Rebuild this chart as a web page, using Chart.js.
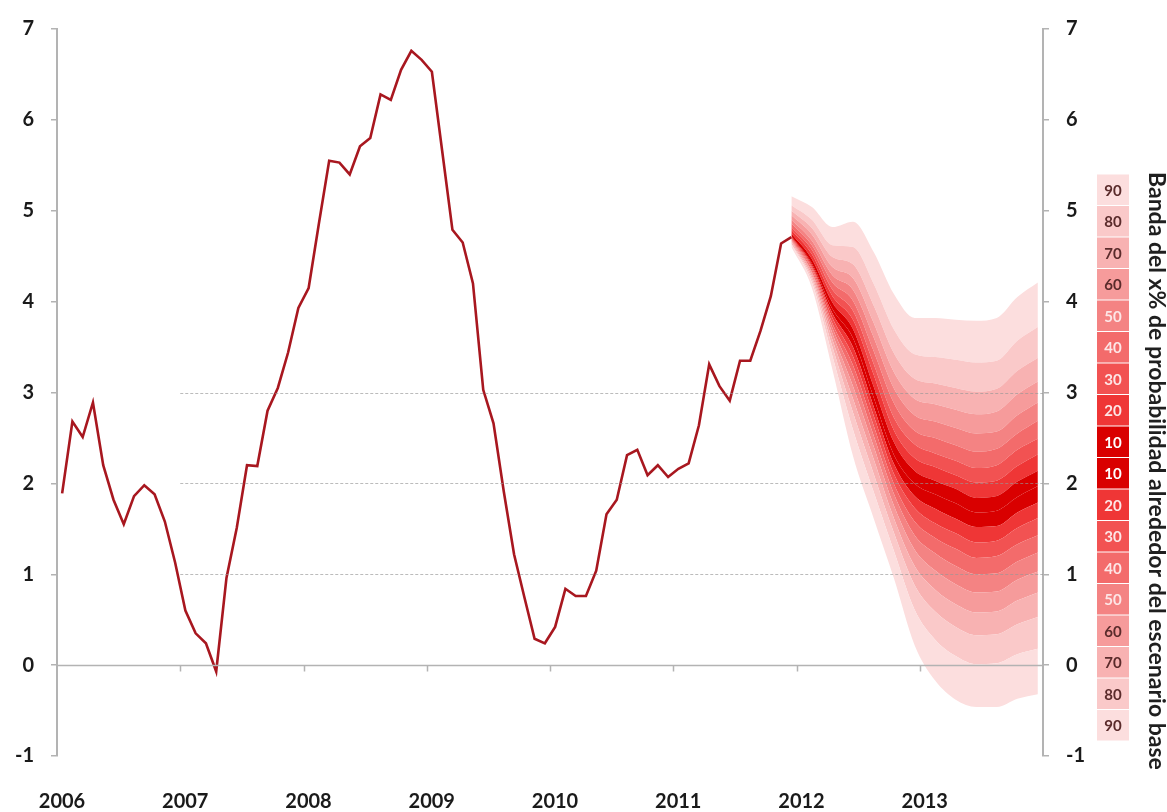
<!DOCTYPE html>
<html>
<head>
<meta charset="utf-8">
<script src="https://cdn.jsdelivr.net/npm/chart.js@4.4.1/dist/chart.umd.min.js"></script>
<style>
  html, body { margin: 0; padding: 0; background: #ffffff; }
  #c { display: block; }
</style>
</head>
<body>
<canvas id="c" width="1167" height="812"></canvas>
<script>
// ---------- DATA ----------
const yearLabels = ['2006', '2007', '2008', '2009', '2010', '2011', '2012', '2013'];

// Monthly observed series, Jan 2006 .. Dec 2011 (index 0..71)
const historyValues = [
  1.89, 2.68, 2.51, 2.89, 2.20, 1.82, 1.55, 1.86, 1.98, 1.88, 1.58, 1.13,
  0.60, 0.35, 0.24, -0.07, 0.96, 1.51, 2.20, 2.19, 2.80, 3.05, 3.44, 3.93,
  4.15, 4.86, 5.55, 5.53, 5.40, 5.71, 5.80, 6.28, 6.22, 6.55, 6.76, 6.66,
  6.53, 5.66, 4.79, 4.65, 4.20, 3.03, 2.66, 1.91, 1.22, 0.75, 0.29, 0.24,
  0.42, 0.84, 0.76, 0.76, 1.04, 1.66, 1.82, 2.31, 2.37, 2.09, 2.20, 2.07,
  2.16, 2.22, 2.64, 3.31, 3.07, 2.91, 3.35, 3.35, 3.68, 4.06, 4.64, 4.71
];

// Forecast fan: month index (0 = Jan 2006) of each reading
const fanMonths = [71, 73, 75, 77, 79, 81, 83, 85, 87, 89, 91, 93, 95];

// Band edges (upper / lower limit of the x% band around the base scenario)
const up90 = [5.16, 5.04, 4.82, 4.88, 4.55, 4.08, 3.82, 3.82, 3.80, 3.79, 3.82, 4.05, 4.21];
const up80 = [5.06, 4.90, 4.62, 4.60, 4.20, 3.69, 3.42, 3.39, 3.36, 3.33, 3.35, 3.57, 3.72];
const up70 = [5.00, 4.81, 4.49, 4.41, 3.96, 3.43, 3.15, 3.10, 3.05, 3.01, 3.04, 3.24, 3.38];
const up60 = [4.95, 4.74, 4.38, 4.26, 3.77, 3.22, 2.93, 2.87, 2.81, 2.76, 2.79, 2.98, 3.12];
const up50 = [4.90, 4.67, 4.29, 4.13, 3.61, 3.04, 2.75, 2.68, 2.61, 2.55, 2.57, 2.75, 2.89];
const up40 = [4.86, 4.62, 4.21, 4.01, 3.46, 2.88, 2.58, 2.50, 2.42, 2.35, 2.38, 2.55, 2.69];
const up30 = [4.82, 4.57, 4.13, 3.90, 3.32, 2.72, 2.43, 2.33, 2.25, 2.17, 2.20, 2.37, 2.49];
const up20 = [4.79, 4.52, 4.06, 3.80, 3.20, 2.58, 2.28, 2.18, 2.09, 2.01, 2.03, 2.19, 2.32];
const up10 = [4.75, 4.47, 3.99, 3.70, 3.07, 2.45, 2.14, 2.03, 1.94, 1.84, 1.86, 2.02, 2.14];
const central = [4.72, 4.42, 3.92, 3.60, 2.95, 2.31, 2.00, 1.88, 1.78, 1.68, 1.70, 1.85, 1.97];
const lo10 = [4.71, 4.40, 3.87, 3.50, 2.85, 2.21, 1.86, 1.72, 1.61, 1.52, 1.53, 1.68, 1.79];
const lo20 = [4.70, 4.38, 3.82, 3.40, 2.75, 2.10, 1.73, 1.56, 1.45, 1.35, 1.37, 1.51, 1.62];
const lo30 = [4.69, 4.36, 3.76, 3.30, 2.64, 1.99, 1.58, 1.40, 1.28, 1.18, 1.20, 1.33, 1.43];
const lo40 = [4.68, 4.33, 3.71, 3.19, 2.53, 1.88, 1.43, 1.23, 1.09, 1.00, 1.01, 1.14, 1.24];
const lo50 = [4.67, 4.31, 3.65, 3.07, 2.41, 1.75, 1.27, 1.04, 0.89, 0.80, 0.81, 0.94, 1.03];
const lo60 = [4.66, 4.28, 3.58, 2.93, 2.27, 1.61, 1.09, 0.83, 0.67, 0.58, 0.59, 0.71, 0.80];
const lo70 = [4.64, 4.25, 3.50, 2.78, 2.11, 1.45, 0.88, 0.59, 0.42, 0.33, 0.34, 0.45, 0.53];
const lo80 = [4.63, 4.21, 3.40, 2.59, 1.91, 1.25, 0.61, 0.28, 0.10, 0.01, 0.02, 0.12, 0.18];
const lo90 = [4.60, 4.15, 3.25, 2.30, 1.62, 0.95, 0.22, -0.17, -0.38, -0.46, -0.46, -0.37, -0.32];

const legendLabels = ['90', '80', '70', '60', '50', '40', '30', '20', '10', '10', '20', '30', '40', '50', '60', '70', '80', '90'];
const refLines = [1, 2, 3];
const legendTitle = 'Banda del x% de probabilidad alrededor del escenario base';

// ---------- STYLE ----------
const bandColor = {
  '90': '#fcdede', '80': '#fac9c9', '70': '#f8b2b2', '60': '#f69b9b', '50': '#f48383',
  '40': '#f36b6b', '30': '#f25252', '20': '#ef3636', '10': '#d90000'
};
const legendText = {
  '90': '#5a2b2b', '80': '#5a2b2b', '70': '#5a2b2b', '60': '#5a2b2b',
  '50': '#fde6e6', '40': '#fde6e6', '30': '#fde6e6', '20': '#fde6e6', '10': '#ffffff'
};
const lineColor = '#a8171f';
const axisGrey = '#b3b3b3';
const labelFont = { family: 'Lato', weight: 'bold', size: 20 };

// ---------- BUILD ----------
const xy = (months, vals) => months.map((m, i) => ({ x: m + 0.5, y: vals[i] }));
const historyMonths = historyValues.map((_, i) => i);

const fanBoundaries = [
  ['lo90', lo90, null], ['lo80', lo80, '90'], ['lo70', lo70, '80'], ['lo60', lo60, '70'],
  ['lo50', lo50, '60'], ['lo40', lo40, '50'], ['lo30', lo30, '40'], ['lo20', lo20, '30'],
  ['lo10', lo10, '20'], ['central', central, '10'], ['up10', up10, '10'], ['up20', up20, '20'],
  ['up30', up30, '30'], ['up40', up40, '40'], ['up50', up50, '50'], ['up60', up60, '60'],
  ['up70', up70, '70'], ['up80', up80, '80'], ['up90', up90, '90']
];

const datasets = [{
  label: 'Observado',
  data: xy(historyMonths, historyValues),
  borderColor: lineColor,
  borderWidth: 2.6,
  pointRadius: 0,
  tension: 0,
  fill: false,
  order: 0
}];
fanBoundaries.forEach(([name, vals, band]) => {
  datasets.push({
    label: name,
    data: xy(fanMonths, vals),
    borderColor: 'rgba(0,0,0,0)',
    borderWidth: 0,
    pointRadius: 0,
    cubicInterpolationMode: 'monotone',
    fill: band ? '-1' : false,
    backgroundColor: band ? bandColor[band] : 'rgba(0,0,0,0)',
    order: 1
  });
});

const overlay = {
  id: 'overlay',
  afterDatasetsDraw(chart) {
    const { ctx, chartArea: a, scales: { x, y } } = chart;
    ctx.save();
    // dashed reference lines
    ctx.strokeStyle = 'rgba(150,150,150,0.65)';
    ctx.lineWidth = 1;
    ctx.setLineDash([3, 2]);
    refLines.forEach(v => {
      const py = Math.round(y.getPixelForValue(v)) + 0.5;
      ctx.beginPath();
      ctx.moveTo(x.getPixelForValue(12), py);
      ctx.lineTo(a.right, py);
      ctx.stroke();
    });
    ctx.setLineDash([]);
    // zero line acting as category axis
    const y0 = Math.round(y.getPixelForValue(0)) + 0.5;
    ctx.strokeStyle = axisGrey;
    ctx.lineWidth = 1.5;
    ctx.beginPath();
    ctx.moveTo(a.left, y0);
    ctx.lineTo(a.right, y0);
    ctx.stroke();
    for (let i = 1; i < yearLabels.length; i++) {
      const px = Math.round(x.getPixelForValue(i * 12)) + 0.5;
      ctx.beginPath();
      ctx.moveTo(px, y0);
      ctx.lineTo(px, y0 + 6);
      ctx.stroke();
    }
    ctx.restore();
  },
  afterDraw(chart) {
    const { ctx, chartArea: a } = chart;
    ctx.save();
    // legend column
    const bx = a.right + 54, bw = 32, top = 174, rh = 31.5;
    legendLabels.forEach((lab, i) => {
      const by = top + i * rh;
      ctx.fillStyle = bandColor[lab];
      ctx.fillRect(bx, by + 0.5, bw, rh - 1);
      ctx.fillStyle = legendText[lab];
      ctx.font = 'bold 15px Lato';
      ctx.textAlign = 'center';
      ctx.textBaseline = 'middle';
      ctx.fillText(lab, bx + bw / 2, by + rh / 2 + 1);
    });
    // vertical title
    ctx.fillStyle = '#1f1f1f';
    let fs = 18;
    ctx.font = 'bold ' + fs + 'px Lato';
    const w = ctx.measureText(legendTitle).width;
    fs = fs * 598 / w;
    ctx.font = 'bold ' + fs.toFixed(2) + 'px Lato';
    ctx.translate(a.right + 113, 172);
    ctx.rotate(Math.PI / 2);
    ctx.textAlign = 'left';
    ctx.textBaseline = 'middle';
    ctx.fillText(legendTitle, 0, 0);
    ctx.restore();
  }
};

new Chart(document.getElementById('c'), {
  type: 'line',
  data: { datasets },
  options: {
    responsive: false,
    animation: false,
    devicePixelRatio: 1,
    layout: { padding: { top: 23, left: 0, right: 0, bottom: 0 } },
    plugins: { legend: { display: false }, tooltip: { enabled: false } },
    scales: {
      x: {
        type: 'linear', min: 0, max: 96,
        grid: { display: false },
        border: { display: false },
        ticks: {
          stepSize: 12, autoSkip: false, maxRotation: 0, padding: 26, labelOffset: 5,
          color: '#1a1a1a', font: labelFont,
          callback: v => yearLabels[v / 12] ?? ''
        },
        afterFit: s => { s.height = 56; }
      },
      y: {
        position: 'left', min: -1, max: 7,
        grid: { drawOnChartArea: false, drawTicks: true, tickLength: 6, color: axisGrey, lineWidth: 1.5 },
        border: { display: true, color: axisGrey, width: 2 },
        ticks: { stepSize: 1, padding: 17, color: '#1a1a1a', font: labelFont },
        afterFit: s => { s.width = 57; }
      },
      y2: {
        position: 'right', min: -1, max: 7,
        grid: { drawOnChartArea: false, drawTicks: true, tickLength: 6, color: axisGrey, lineWidth: 1.5 },
        border: { display: true, color: axisGrey, width: 2 },
        ticks: { stepSize: 1, padding: 17, color: '#1a1a1a', font: labelFont },
        afterFit: s => { s.width = 124; }
      }
    }
  },
  plugins: [overlay]
});
</script>
</body>
</html>
